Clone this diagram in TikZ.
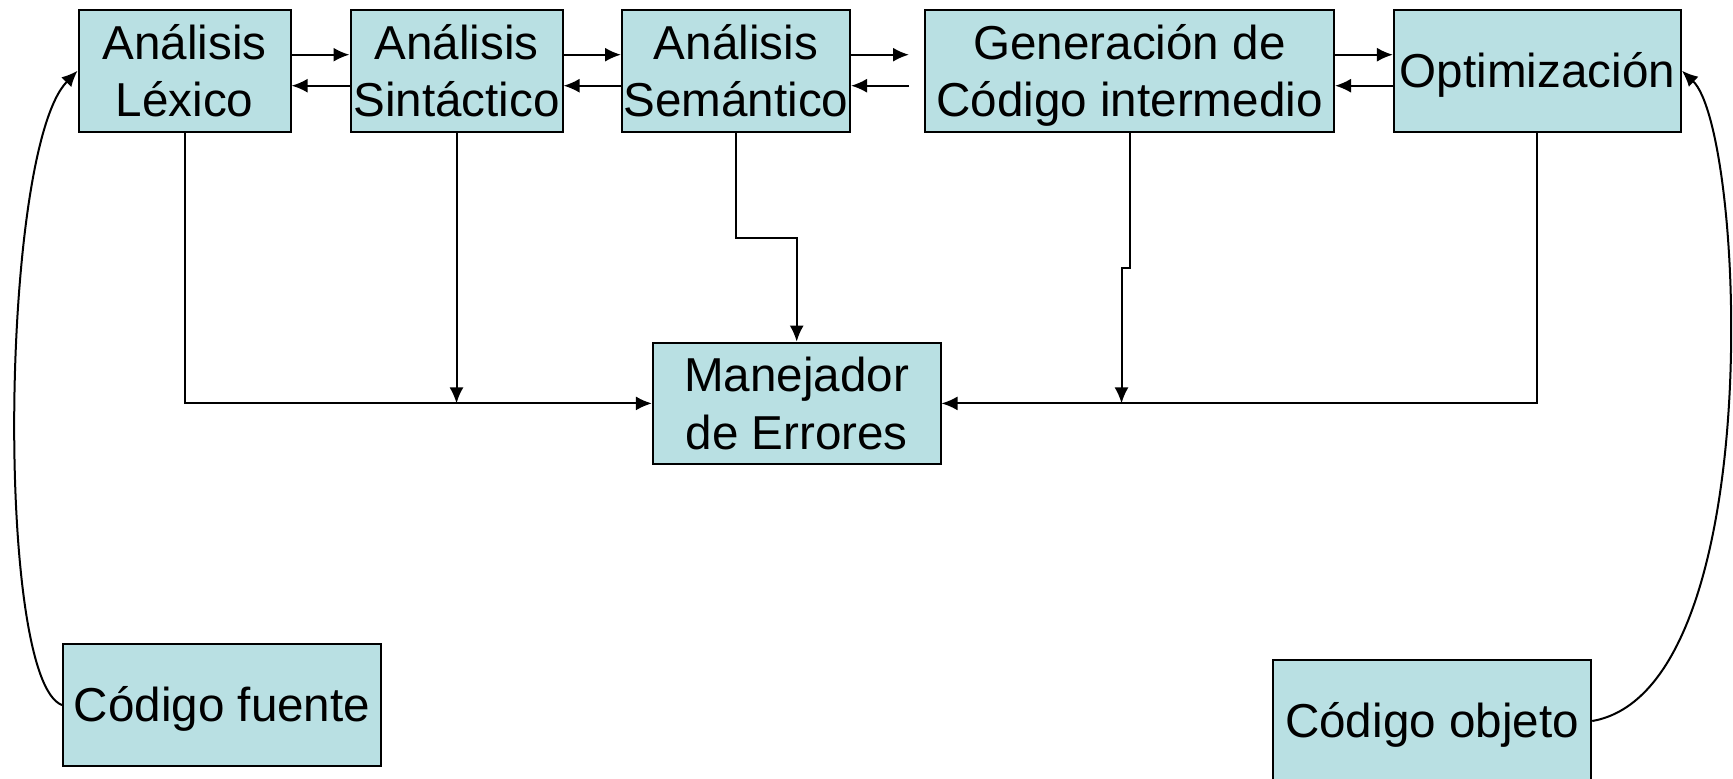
\documentclass[tikz,border=0pt]{standalone}
\usepackage{fontspec}
\setmainfont{Liberation Sans}
\usetikzlibrary{arrows.meta}
\definecolor{cajas}{RGB}{185,224,227}
\newcommand\sinfondo[1]{\raisebox{0pt}[\height][0pt]{#1}}

\begin{document}
\begin{tikzpicture}[x=0.5pt, y=-0.5pt, >={Latex[length=8pt,width=7pt]}, line width=1pt,
  fase/.style={draw, fill=cajas, inner sep=0pt, minimum height=60.8pt, align=center,
    font=\fontsize{23.8}{28.7}\selectfont},
  linea/.style={fase, text height=21.5pt, text depth=5pt}]

  \useasboundingbox (0,0) rectangle (1733,778);
  \clip (0,0) rectangle (1733,778);

  \node[fase, minimum width=106pt] (lex) at (184.6,70.7) {Análisis\\Léxico};
  \node[fase, minimum width=106pt] (sin) at (456.5,70.7) {Análisis\\Sintáctico};
  \node[fase, minimum width=114pt] (sem) at (736,70.7) {Análisis\\Semántico};
  \node[fase, minimum width=204.5pt] (gen) at (1129.5,70.7) {Generación de\\\sinfondo{Código intermedio}};
  \node[linea, minimum width=143.5pt] (opt) at (1537.4,70.7) {Optimización};
  \node[fase, minimum width=143.8pt] (err) at (796.7,403.4) {Manejador\\de Errores};
  \node[linea, minimum width=159pt] (fuente) at (222,705) {Código fuente};
  \node[linea, minimum width=159.2pt] (objeto) at (1432,721) {Código objeto};

  \coordinate (hueco) at ([xshift=-7.5pt]gen.west);

  \path[->] ([yshift=8pt]lex.east) edge ([yshift=8pt]sin.west);
  \path[->] ([yshift=-7.5pt]sin.west) edge ([yshift=-7.5pt]lex.east);
  \path[->] ([yshift=8pt]sin.east) edge ([yshift=8pt]sem.west);
  \path[->] ([yshift=-7.5pt]sem.west) edge ([yshift=-7.5pt]sin.east);
  \path[->] ([yshift=8pt]sem.east) edge ([yshift=8pt]hueco);
  \path[->] ([yshift=-7.5pt]hueco) edge ([yshift=-7.5pt]sem.east);
  \path[->] ([yshift=8pt]gen.east) edge ([yshift=8pt]opt.west);
  \path[->] ([yshift=-7.5pt]opt.west) edge ([yshift=-7.5pt]gen.east);

  \draw[->] (lex.south) |- (err.west);
  \draw[->] (sin.south) -- (sin.south |- err.west);
  \draw[->] (sem.south) -- ++(0,105) -| (err.north);
  \draw[->] (gen.south) -- ++(0,135) -| ([xshift=-4pt]gen.south |- err.east);
  \draw[->] (opt.south) |- (err.east);

  \draw[->] (fuente.west) .. controls (-5,680) and (0,150) .. (lex.west);
  \draw[->] (objeto.east) .. controls (1770,690) and (1745,130) .. (opt.east);

\end{tikzpicture}
\end{document}
